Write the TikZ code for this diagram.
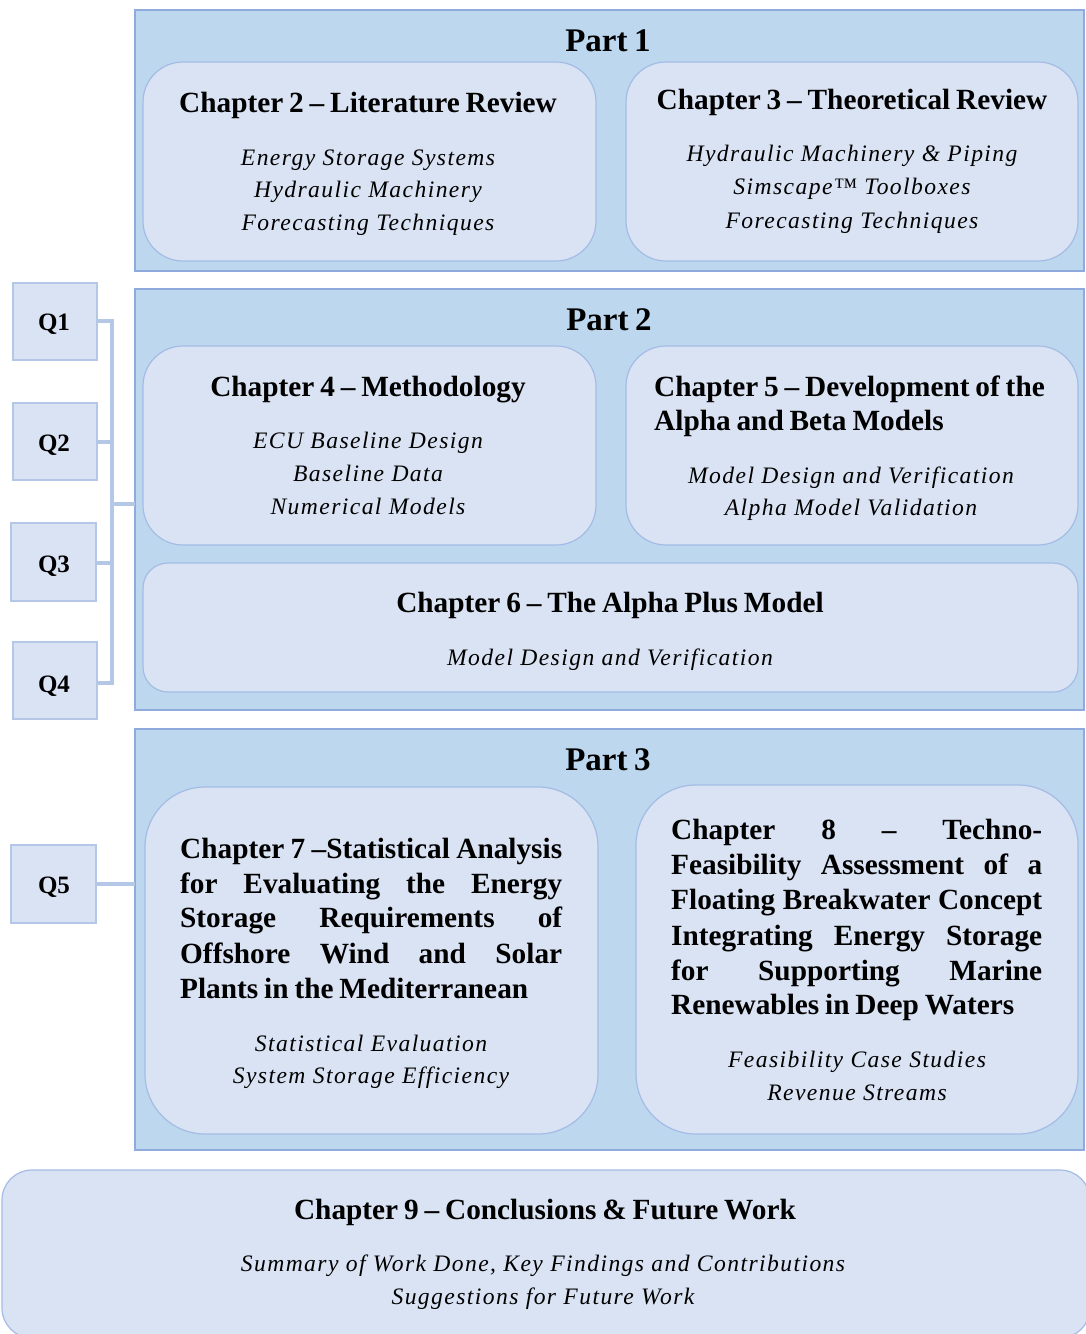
\documentclass[tikz,border=0pt]{standalone}
\usepackage{fontspec}
\setmainfont{Liberation Serif}
\newfontfamily\itf{Liberation Serif}[LetterSpace=6,Ligatures=TeX]
\newfontfamily\hdf{Liberation Serif}[WordSpace=0.8,Ligatures=TeX]
\definecolor{partfill}{HTML}{BDD7EE}
\definecolor{partline}{HTML}{8FAADC}
\definecolor{chfill}{HTML}{DAE3F3}
\definecolor{chline}{HTML}{A4BCE5}
\definecolor{qline}{HTML}{B4C7E7}
\newcommand\jl[4]{\node[hd, anchor=base west] (#1) at (#2) {\makebox[#3][s]{#4}};}
\begin{document}
\begin{tikzpicture}[x=1pt,y=-1pt,
  partbox/.style={draw=partline, line width=1.2pt, fill=partfill},
  chbox/.style={draw=chline, line width=1.2pt, fill=chfill},
  qbox/.style={draw=qline, line width=1.2pt, fill=chfill},
  conn/.style={draw=qline, line width=4pt},
  hd/.style={inner sep=0pt, font=\fontsize{29.3}{32}\selectfont\hdf\bfseries},
  pt/.style={inner sep=0pt, anchor=base, font=\fontsize{33}{36}\selectfont\bfseries},
  it/.style={inner sep=0pt, anchor=base, font=\fontsize{23.6}{28}\selectfont\itf\itshape},
  ql/.style={inner sep=0pt, anchor=base, font=\fontsize{25}{28}\selectfont\bfseries}]
\useasboundingbox (0,0) rectangle (1085,1334);
\fill[white] (0,0) rectangle (1085,1334);
% Part boxes
\draw[partbox] (135,10) rectangle (1084,271);
\draw[partbox] (135,289) rectangle (1084,710);
\draw[partbox] (135,729) rectangle (1084,1150);
\node[pt] (p1) at (608,51) {Part 1};
\node[pt] (p2) at (609,330) {Part 2};
\node[pt] (p3) at (608,770) {Part 3};
% Chapter boxes
\draw[chbox, rounded corners=40pt] (143,62) rectangle (596,261);
\draw[chbox, rounded corners=40pt] (626,62) rectangle (1078,261);
\draw[chbox, rounded corners=40pt] (143,346) rectangle (596,545);
\draw[chbox, rounded corners=40pt] (626,346) rectangle (1078,545);
\draw[chbox, rounded corners=25pt] (143,563) rectangle (1078,692);
\draw[chbox, rounded corners=60pt] (145,787) rectangle (598,1134);
\draw[chbox, rounded corners=60pt] (636,785) rectangle (1078,1134);
\draw[chbox, rounded corners=30pt] (2,1170) rectangle (1090,1338);
% Chapter 2
\node[hd, anchor=base] (c2h) at (368,112) {Chapter 2 – Literature Review};
\node[it] (c2a) at (368,165) {Energy Storage Systems};
\node[it] (c2b) at (368,197) {Hydraulic Machinery};
\node[it] (c2c) at (368,230) {Forecasting Techniques};
% Chapter 3
\node[hd, anchor=base] (c3h) at (852,109) {Chapter 3 – Theoretical Review};
\node[it] (c3a) at (852,161) {Hydraulic Machinery \& Piping};
\node[it] (c3b) at (852,194) {Simscape™ Toolboxes};
\node[it] (c3c) at (852,228) {Forecasting Techniques};
% Chapter 4
\node[hd, anchor=base] (c4h) at (368,396) {Chapter 4 – Methodology};
\node[it] (c4a) at (368,448) {ECU Baseline Design};
\node[it] (c4b) at (368,481) {Baseline Data};
\node[it] (c4c) at (368,514) {Numerical Models};
% Chapter 5
\node[hd, anchor=base west] (c5h1) at (654,396) {Chapter 5 – Development of the};
\node[hd, anchor=base west] (c5h2) at (654,430) {Alpha and Beta Models};
\node[it] (c5a) at (851,483) {Model Design and Verification};
\node[it] (c5b) at (851,515) {Alpha Model Validation};
% Chapter 6
\node[hd, anchor=base] (c6h) at (610,612) {Chapter 6 – The Alpha Plus Model};
\node[it] (c6a) at (610,665) {Model Design and Verification};
% Chapter 7
\jl{c7l1}{180,858}{382pt}{Chapter 7 –Statistical Analysis}
\jl{c7l2}{180,893}{382pt}{for Evaluating the Energy}
\jl{c7l3}{180,927}{382pt}{Storage Requirements of}
\jl{c7l4}{180,963}{382pt}{Offshore Wind and Solar}
\node[hd, anchor=base west] (c7l5) at (180,998) {Plants in the Mediterranean};
\node[it] (c7a) at (371,1051) {Statistical Evaluation};
\node[it] (c7b) at (371,1083) {System Storage Efficiency};
% Chapter 8
\jl{c8l1}{671,839}{371pt}{Chapter 8 – Techno-}
\jl{c8l2}{671,874}{371pt}{Feasibility Assessment of a}
\jl{c8l3}{671,909}{371pt}{Floating Breakwater Concept}
\jl{c8l4}{671,945}{371pt}{Integrating Energy Storage}
\jl{c8l5}{671,980}{371pt}{for Supporting Marine}
\node[hd, anchor=base west] (c8l6) at (671,1014) {Renewables in Deep Waters};
\node[it] (c8a) at (857,1067) {Feasibility Case Studies};
\node[it] (c8b) at (857,1100) {Revenue Streams};
% Chapter 9
\node[hd, anchor=base] (c9h) at (545,1219) {Chapter 9 – Conclusions \& Future Work};
\node[it] (c9a) at (543,1271) {Summary of Work Done, Key Findings and Contributions};
\node[it] (c9b) at (543,1304) {Suggestions for Future Work};
% Q boxes
\node[qbox, minimum width=84pt, minimum height=77pt, inner sep=0pt] (q1) at (55,321.5) {};
\node[qbox, minimum width=84pt, minimum height=77pt, inner sep=0pt] (q2) at (55,441.5) {};
\node[qbox, minimum width=85pt, minimum height=78pt, inner sep=0pt] (q3) at (53.5,562) {};
\node[qbox, minimum width=84pt, minimum height=77pt, inner sep=0pt] (q4) at (55,680.5) {};
\node[qbox, minimum width=85pt, minimum height=78pt, inner sep=0pt] (q5) at (53.5,884) {};
\node[ql] (q1t) at (54,330) {Q1};
\node[ql] (q2t) at (54,451) {Q2};
\node[ql] (q3t) at (54,572) {Q3};
\node[ql] (q4t) at (54,692) {Q4};
\node[ql] (q5t) at (54,893) {Q5};
% connectors
\coordinate (j) at (112,504);
\coordinate (p2l) at (135,504);
\coordinate (p3l) at (135,884);
\draw[conn] (q1.east |- 0,321) -| (j);
\draw[conn] (q2.east |- 0,442) -| (j);
\draw[conn] (q3.east |- 0,563) -| (j);
\draw[conn] (q4.east |- 0,683) -| (j);
\draw[conn] (j) -- (p2l);
\draw[conn] (q5.east) -- (p3l);
\end{tikzpicture}
\end{document}
